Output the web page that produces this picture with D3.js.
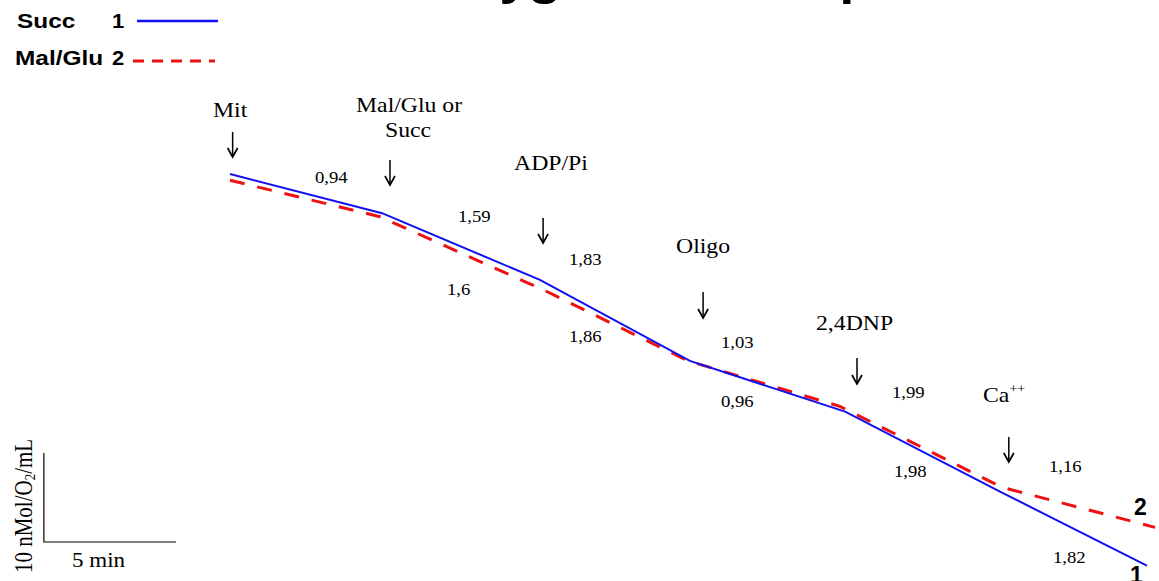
<!DOCTYPE html>
<html><head><meta charset="utf-8">
<script src="https://cdn.jsdelivr.net/npm/d3@7/dist/d3.min.js"></script>
<style>html,body{margin:0;padding:0;background:#fff;overflow:hidden}</style>
</head><body><svg id="c" width="1159" height="581"></svg>
<script>
// ---- data (time in min, O2 in nmol/mL) ----
const succTime = [0, 5.76, 11.74, 17.42, 23.30, 29.24, 34.73];
const succO2   = [240, 235.6, 228.1, 219.0, 213.3, 204.2, 196.0];
const malTime  = [0, 5.68, 11.93, 17.35, 23.10, 29.24, 35.04];
const malO2    = [239.3, 235.2, 226.9, 219.0, 213.9, 204.8, 200.3];
const eventNames = ["Mit", "Mal/Glu or|Succ", "ADP/Pi", "Oligo", "2,4DNP", "Ca++"];
const eventTimes = [0.1, 6.06, 11.86, 17.92, 23.75, 29.5];
const succRates = ["0,94", "1,59", "1,83", "1,03", "1,99", "1,82"];
const malRates  = ["1,6", "1,86", "0,96", "1,98", "1,16"];
const seriesNames = ["Succ", "Mal/Glu"];
const seriesIds = ["1", "2"];
const scaleBarTime = 5, scaleBarO2 = 10;

// ---- layout ----
const svg = d3.select("#c");
const x = d3.scaleLinear().domain([0, 35]).range([230, 1154]);
const y = d3.scaleLinear().domain([240, 190]).range([174, 619]);
const serif = "'Liberation Serif','Times New Roman',serif";
const sans = "'Liberation Sans',Arial,sans-serif";
const BLUE = "#1010f0", RED = "#ee1111";

function txt(str, px, py, size, fam, opts = {}) {
  const t = svg.append("text")
    .attr("transform", `translate(${px},${py}) scale(${opts.sx || 1},1)`)
    .attr("font-family", fam).attr("font-size", size)
    .attr("font-weight", opts.bold ? "bold" : "normal")
    .attr("fill", "#000").attr("text-anchor", opts.anchor || "start")
    .text(str);
  return t;
}

// title (cropped at top, as in the reference)
txt("Oxygen consumption", 429, -5, 44, sans, {bold: true, sx: 1.2});

// legend
const legY = [28, 65];
seriesNames.forEach((n, i) => {
  txt(n, 15 + (i === 0 ? 2 : 0), legY[i], 20, sans, {bold: true, sx: 1.22});
  txt(seriesIds[i], 112, legY[i], 20, sans, {bold: true, sx: 1.1});
});
svg.append("line").attr("x1", 137).attr("x2", 218).attr("y1", 21).attr("y2", 21)
  .attr("stroke", BLUE).attr("stroke-width", 2.5);
svg.append("line").attr("x1", 133).attr("x2", 215).attr("y1", 61).attr("y2", 61)
  .attr("stroke", RED).attr("stroke-width", 3).attr("stroke-dasharray", "11,8");

// traces
const line = d3.line().x(d => x(d[0])).y(d => y(d[1]));
svg.append("path").datum(malTime.map((t, i) => [t, malO2[i]])).attr("d", line)
  .attr("fill", "none").attr("stroke", RED).attr("stroke-width", 3)
  .attr("stroke-dasharray", "15,13");
svg.append("path").datum(succTime.map((t, i) => [t, succO2[i]])).attr("d", line)
  .attr("fill", "none").attr("stroke", BLUE).attr("stroke-width", 2);

// event labels + arrows
const evLabelPos = [[213, 117], [356, 112], [514, 170], [676, 253], [816, 330], [983, 402]];
const evSub = [null, [385, 137], null, null, null, null];
const arrowY = [[132, 157], [160, 185], [218, 243], [292, 318], [358, 384], [437, 462]];
eventNames.forEach((n, i) => {
  const parts = n.split("|");
  if (n === "Ca++") {
    const t = txt("Ca", evLabelPos[i][0], evLabelPos[i][1], 22, serif, {sx: 1.08});
    t.append("tspan").attr("font-size", 13).attr("dy", -9).text("++");
  } else {
    txt(parts[0], evLabelPos[i][0], evLabelPos[i][1], 22, serif, {sx: 1.08});
    if (parts[1]) txt(parts[1], evSub[i][0], evSub[i][1], 22, serif, {sx: 1.08});
  }
  const ax = x(eventTimes[i]);
  const [a0, a1] = arrowY[i];
  svg.append("line").attr("x1", ax).attr("x2", ax).attr("y1", a0).attr("y2", a1)
    .attr("stroke", "#000").attr("stroke-width", 1.5);
  svg.append("path").attr("d", `M${ax - 5},${a1 - 9} L${ax},${a1} L${ax + 5},${a1 - 9}`)
    .attr("fill", "none").attr("stroke", "#000").attr("stroke-width", 1.7);
});

// rate labels
const succRatePos = [[315, 183], [458, 222], [569, 265], [721, 348], [892, 398], [1053, 563]];
const malRatePos = [[447, 295], [569, 342], [721, 407], [894, 477], [1049, 472]];
succRates.forEach((r, i) => txt(r, succRatePos[i][0], succRatePos[i][1], 17, serif, {sx: 1.1}));
malRates.forEach((r, i) => txt(r, malRatePos[i][0], malRatePos[i][1], 17, serif, {sx: 1.1}));

// trace end ids
txt(seriesIds[1], 1134, 515, 23, sans, {bold: true});
txt(seriesIds[0], 1130, 583, 23, sans, {bold: true});

// scale bar
const sbT = -7.05, sbO = 198.65;
svg.append("path")
  .attr("d", `M${x(sbT)},${y(sbO + scaleBarO2)} L${x(sbT)},${y(sbO)} L${x(sbT + scaleBarTime)},${y(sbO)}`)
  .attr("fill", "none").attr("stroke", "#000").attr("stroke-width", 1.2);
txt("5 min", 72, 567, 20, serif, {sx: 1.15});
const yl = svg.append("text").attr("transform", "translate(32,573) rotate(-90) scale(1,1.15)")
  .attr("font-family", serif).attr("font-size", 21).attr("fill", "#000")
  .text("10 nMol/O");
yl.append("tspan").attr("font-size", 13).attr("dy", 3).text("2");
yl.append("tspan").attr("dy", -3).text("/mL");
</script></body></html>
